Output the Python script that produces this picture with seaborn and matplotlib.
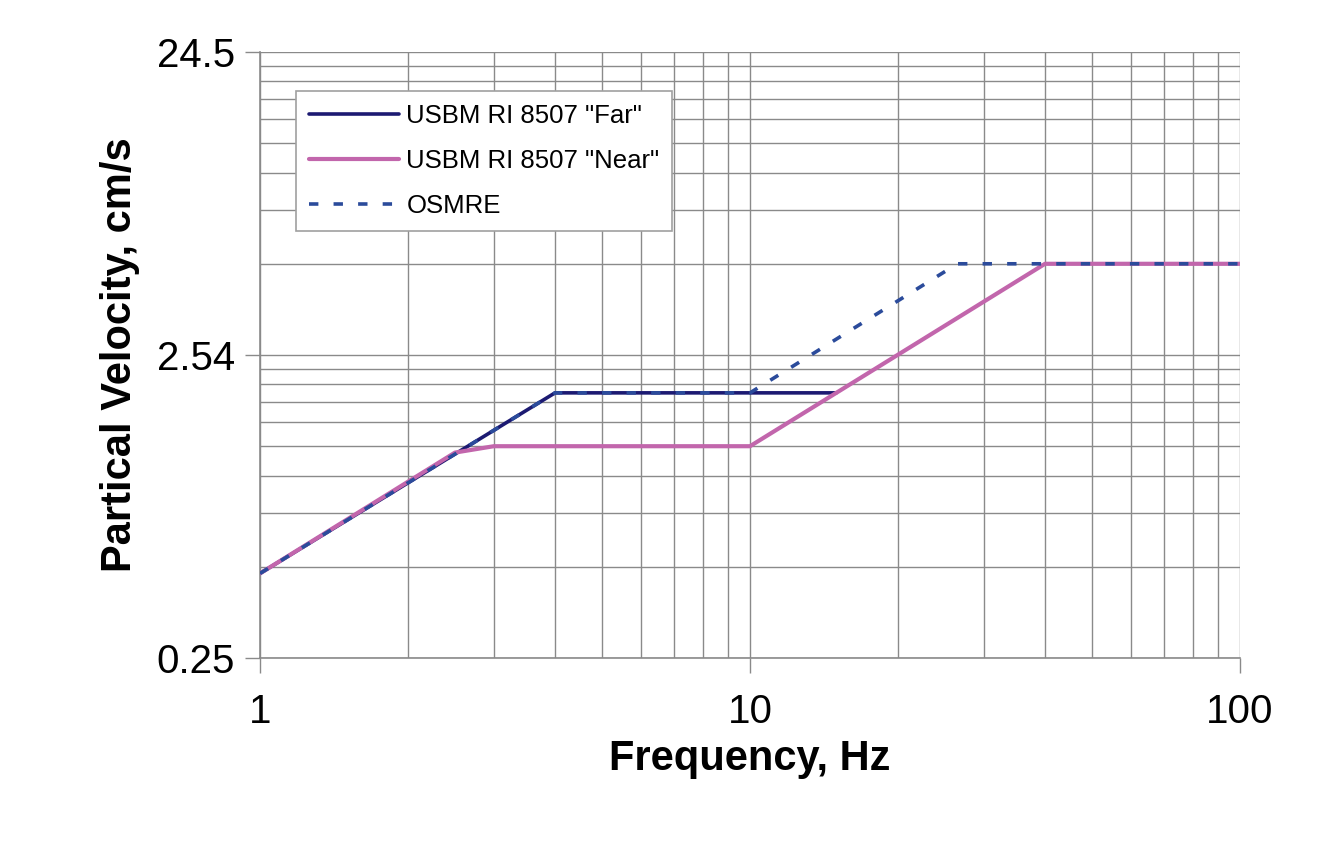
import matplotlib
matplotlib.use("Agg")
import matplotlib.pyplot as plt
import matplotlib.ticker as mticker
import seaborn as sns
import pandas as pd

# ---- data (frequency Hz, particle velocity cm/s) ----
far_freq = [1, 4, 15]
far_vel = [0.483, 1.905, 1.905]

near_freq = [1, 2.5, 3, 10, 40, 100]
near_vel = [0.483, 1.21, 1.27, 1.27, 5.08, 5.08]

osmre_freq = [1, 4, 10, 26.5, 100]
osmre_vel = [0.483, 1.905, 1.905, 5.08, 5.08]

series_names = ['USBM RI 8507 "Far"', 'USBM RI 8507 "Near"', 'OSMRE']

x_tick_values = [1, 10, 100]
x_tick_labels = ['1', '10', '100']
y_tick_values = [0.254, 2.54, 25.4]
y_tick_labels = ['0.25', '2.54', '24.5']

x_label = 'Frequency, Hz'
y_label = 'Partical Velocity, cm/s'

# ---- style ----
sns.set_style("white")
plt.rcParams['font.family'] = ['Liberation Sans', 'DejaVu Sans']
plt.rcParams['text.color'] = 'black'
plt.rcParams['axes.labelcolor'] = 'black'

fig = plt.figure(figsize=(13.19, 8.44), dpi=100)
ax = fig.add_axes([260 / 1319, 1 - 658 / 844, 980 / 1319, 606 / 844])

far_df = pd.DataFrame({'f': far_freq, 'v': far_vel})
near_df = pd.DataFrame({'f': near_freq, 'v': near_vel})
osmre_df = pd.DataFrame({'f': osmre_freq, 'v': osmre_vel})

sns.lineplot(data=far_df, x='f', y='v', ax=ax, color='#1c1a72', lw=2.6,
             sort=False, estimator=None, label=series_names[0], zorder=3)
sns.lineplot(data=near_df, x='f', y='v', ax=ax, color='#c266ac', lw=3.0,
             sort=False, estimator=None, label=series_names[1], zorder=4)
sns.lineplot(data=osmre_df, x='f', y='v', ax=ax, color='#2b4b9b', lw=2.6,
             sort=False, estimator=None, label=series_names[2], zorder=5)
ax.lines[-1].set_dashes((2.6, 4.2))

ax.set_xscale('log')
ax.set_yscale('log')
ax.set_xlim(1, 100)
ax.set_ylim(y_tick_values[0], y_tick_values[-1])

ax.xaxis.set_major_locator(mticker.FixedLocator(x_tick_values))
ax.xaxis.set_major_formatter(mticker.FixedFormatter(x_tick_labels))
ax.xaxis.set_minor_locator(mticker.LogLocator(base=10, subs=range(2, 10), numticks=20))
ax.xaxis.set_minor_formatter(mticker.NullFormatter())

ax.yaxis.set_major_locator(mticker.FixedLocator(y_tick_values))
ax.yaxis.set_major_formatter(mticker.FixedFormatter(y_tick_labels))
y_minor = [y_tick_values[0] * k for k in range(2, 10)] + [y_tick_values[1] * k for k in range(2, 10)]
ax.yaxis.set_minor_locator(mticker.FixedLocator(y_minor))
ax.yaxis.set_minor_formatter(mticker.NullFormatter())

ax.grid(True, which='both', color='#8a8a8a', lw=1.0)
ax.set_axisbelow(True)

for s in ['top', 'right']:
    ax.spines[s].set_visible(False)
for s in ['left', 'bottom']:
    ax.spines[s].set_color('#8a8a8a')
    ax.spines[s].set_linewidth(1.2)

ax.tick_params(axis='both', which='major', direction='out', length=11, width=1.0,
               color='#8a8a8a', labelsize=29, labelcolor='black',
               bottom=True, left=True)
ax.tick_params(axis='y', which='major', pad=7)
ax.tick_params(axis='x', which='major', pad=14)
ax.tick_params(axis='both', which='minor', length=0)

ax.set_xlabel(x_label, fontsize=30, fontweight='bold', labelpad=6, color='black')
ax.set_ylabel(y_label, fontsize=30, fontweight='bold', labelpad=12, color='black')

leg = ax.legend(loc='upper left', bbox_to_anchor=(0.0367, 0.9356), fontsize=18.5,
                frameon=True, fancybox=False, framealpha=1, edgecolor='#a0a0a0',
                handlelength=3.5, labelspacing=0.82, borderpad=0.5, handletextpad=0.3,
                borderaxespad=0)
leg.get_frame().set_linewidth(1.2)
for t in leg.get_texts():
    t.set_color('black')

fig.savefig('out.png', dpi=100, facecolor='white')
